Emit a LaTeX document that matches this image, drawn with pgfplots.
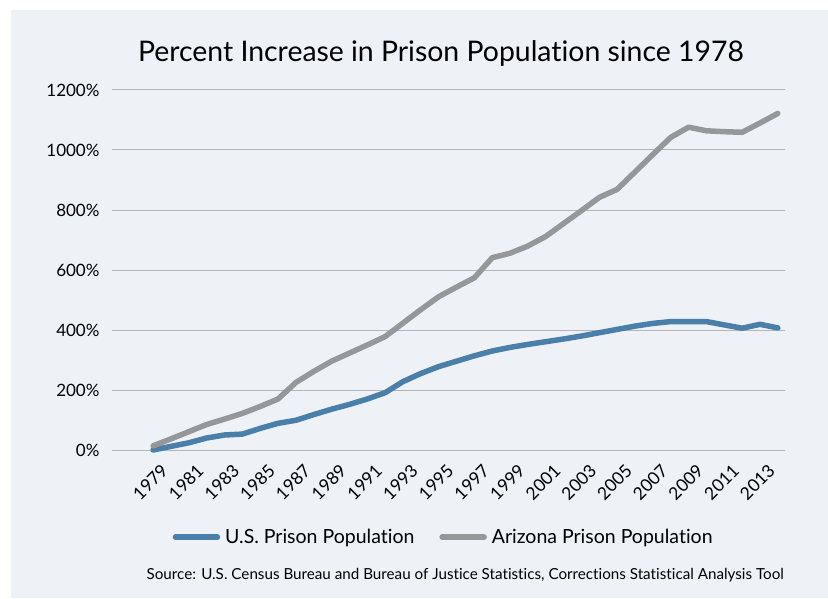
\documentclass[border=0pt]{standalone}
\usepackage{fontspec}
\setmainfont{Lato}[Ligatures={NoCommon}]
\usepackage{pgfplots}
\pgfplotsset{compat=1.18}
\definecolor{bg}{HTML}{EEF2F7}
\definecolor{usblue}{HTML}{4A7FAA}
\definecolor{azgrey}{HTML}{959798}
\definecolor{gridc}{HTML}{B3B5B8}
\begin{document}
\begin{tikzpicture}[x=1pt,y=1pt]
\useasboundingbox (0,0) rectangle (828,598);
\fill[white] (0,0) rectangle (828,598);
\fill[bg] (11,0) rectangle (828,588);
\node[font=\fontsize{28.4}{32}\selectfont, anchor=base, inner sep=0pt] at (441,536) {Percent Increase in Prison Population since 1978};
\node[font=\fontsize{15.2}{18}\selectfont, anchor=east, inner sep=0pt] at (784,23) {Source: U.S. Census Bureau and Bureau of Justice Statistics, Corrections Statistical Analysis Tool};
\begin{axis}[
  at={(112pt,148pt)}, anchor=south west,
  scale only axis, width=673pt, height=360pt,
  xmin=1976.7, xmax=2014.4, ymin=0, ymax=1200,
  ytick={0,200,...,1200},
  xtick={1979,1981,...,2013},
  /pgf/number format/.cd, 1000 sep={}, assume math mode=true, /pgfplots/.cd,
  yticklabel={\pgfmathprintnumber{\tick}\%},
  axis line style={draw=none},
  major tick length=0pt,
  ymajorgrids,
  grid style={gridc, line width=1pt},
  clip=false,
  yticklabel style={font=\fontsize{17}{20}\selectfont, anchor=east, xshift=-9pt},
  xticklabel style={font=\fontsize{17.5}{20}\selectfont, rotate=45, anchor=north east, yshift=-11pt, xshift=-1pt},
  legend style={at={(0.495,-0.242)}, anchor=center, draw=none, fill=none,
    font=\fontsize{19.5}{22}\selectfont, legend columns=2,
    /tikz/every even column/.append style={column sep=20pt},
    nodes={inner xsep=5pt}},
  legend image code/.code={\draw[#1, line width=5.5pt, line cap=round] (0pt,0pt) -- (42pt,0pt);},
]
\addplot[usblue, line width=5.5pt, line cap=round, line join=round] coordinates {
(1979,0) (1980,12) (1981,24) (1982,40) (1983,50) (1984,53) (1985,72) (1986,89)
(1987,99) (1988,118) (1989,136) (1990,152) (1991,170) (1992,191) (1993,228)
(1994,255) (1995,278) (1996,296) (1997,314) (1998,330) (1999,342) (2000,352)
(2001,361) (2002,370) (2003,380) (2004,391) (2005,402) (2006,413) (2007,422)
(2008,428) (2009,428) (2010,428) (2011,417) (2012,406) (2013,419) (2014,407)
};
\addlegendentry{U.S. Prison Population}
\addplot[azgrey, line width=5.5pt, line cap=round, line join=round] coordinates {
(1979,14) (1980,37) (1981,61) (1982,85) (1983,103) (1984,122) (1985,145)
(1986,170) (1987,225) (1988,262) (1989,296) (1990,323) (1991,350) (1992,378)
(1993,423) (1994,468) (1995,511) (1996,543) (1997,574) (1998,641) (1999,656)
(2000,680) (2001,712) (2002,755) (2003,798) (2004,842) (2005,869) (2006,927)
(2007,985) (2008,1042) (2009,1076) (2010,1064) (2011,1061) (2012,1059)
(2013,1090) (2014,1122)
};
\addlegendentry{Arizona Prison Population}
\end{axis}
\end{tikzpicture}
\end{document}
